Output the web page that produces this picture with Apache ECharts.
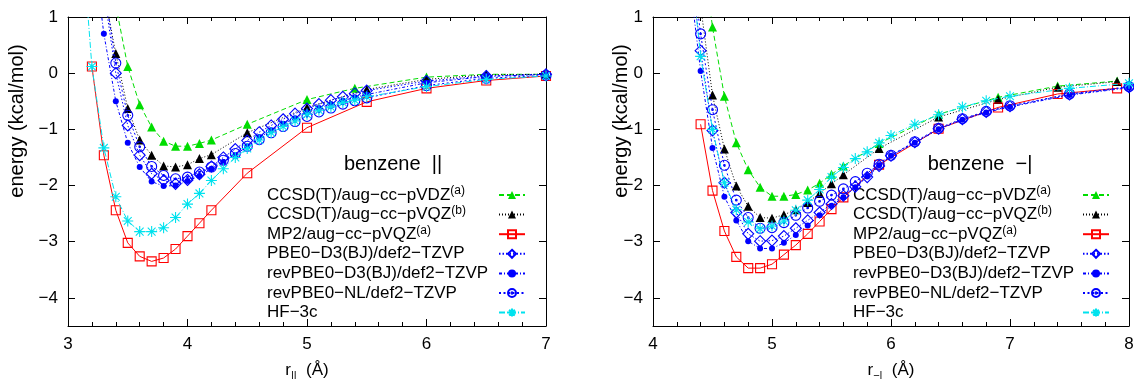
<!DOCTYPE html>
<html><head><meta charset="utf-8">
<script src="https://cdn.jsdelivr.net/npm/echarts@6/dist/echarts.min.js"></script>
<style>html,body{margin:0;padding:0;background:#fff}#c{width:1134px;height:379px}</style>
</head><body><div id="c"></div>
<script>
// ---------- method names (legend) ----------
const methodNames = ['CCSD(T)/aug−cc−pVDZ', 'CCSD(T)/aug−cc−pVQZ', 'MP2/aug−cc−pVQZ',
  'PBE0−D3(BJ)/def2−TZVP', 'revPBE0−D3(BJ)/def2−TZVP', 'revPBE0−NL/def2−TZVP', 'HF−3c'];
const methodSup = ['(a)', '(b)', '(a)', '', '', '', ''];

// ---------- axis ticks ----------
const yTicks = [-4, -3, -2, -1, 0, 1];

// ---------- left panel: benzene || ----------
const parR_VDZ = [3.4,3.5,3.6,3.7,3.8,3.9,4.0,4.1,4.2,4.5,5.0,5.4,6.0,6.5,7.0];
const parE_VDZ = [1.21,0.12,-0.56,-0.96,-1.21,-1.30,-1.30,-1.25,-1.19,-0.91,-0.47,-0.27,-0.07,-0.02,-0.02];
const parR_VQZ = [3.3,3.4,3.5,3.6,3.7,3.8,3.9,4.0,4.1,4.2,4.5,5.0,5.5,6.0,6.5,7.0];
const parE_VQZ = [1.45,0.35,-0.63,-1.19,-1.46,-1.65,-1.67,-1.63,-1.52,-1.45,-1.06,-0.61,-0.29,-0.11,-0.03,-0.02];
const parR_MP2 = [3.2,3.3,3.4,3.5,3.6,3.7,3.8,3.9,4.0,4.1,4.2,4.5,5.0,5.5,6.0,6.5,7.0];
const parE_MP2 = [0.12,-1.46,-2.44,-3.02,-3.26,-3.35,-3.29,-3.13,-2.90,-2.67,-2.44,-1.78,-0.97,-0.51,-0.27,-0.13,-0.05];
const parR_PBE0 = [3.3,3.4,3.5,3.6,3.7,3.8,3.9,4.0,4.1,4.2,4.3,4.4,4.5,4.6,4.7,4.8,4.9,5.0,5.1,5.2,5.3,5.4,5.5,6.0,6.5,7.0];
const parE_PBE0 = [1.45,0.00,-0.93,-1.46,-1.79,-1.91,-1.97,-1.90,-1.80,-1.66,-1.50,-1.35,-1.20,-1.05,-0.93,-0.82,-0.72,-0.63,-0.55,-0.48,-0.42,-0.36,-0.31,-0.14,-0.05,-0.02];
const parR_revD3 = [3.2,3.3,3.4,3.5,3.6,3.7,3.8,3.9,4.0,4.1,4.2,4.3,4.4,4.5,4.6,4.7,4.8,4.9,5.0,5.1,5.2,5.3,5.4,5.5,6.0,6.5,7.0];
const parE_revD3 = [2.4,0.70,-0.50,-1.24,-1.67,-1.93,-2.01,-2.00,-1.92,-1.83,-1.70,-1.58,-1.46,-1.30,-1.15,-1.02,-0.90,-0.80,-0.70,-0.62,-0.55,-0.49,-0.43,-0.38,-0.17,-0.06,-0.02];
const parR_NL = [3.3,3.4,3.5,3.6,3.7,3.8,3.9,4.0,4.1,4.2,4.3,4.4,4.5,4.6,4.7,4.8,4.9,5.0,5.1,5.2,5.3,5.4,5.5,6.0,6.5,7.0];
const parE_NL = [1.6,0.18,-0.75,-1.31,-1.66,-1.82,-1.88,-1.85,-1.76,-1.67,-1.55,-1.43,-1.30,-1.18,-1.06,-0.95,-0.86,-0.77,-0.69,-0.62,-0.55,-0.49,-0.44,-0.22,-0.09,-0.04];
const parR_HF = [3.1,3.2,3.3,3.4,3.5,3.6,3.7,3.8,3.9,4.0,4.1,4.2,4.3,4.4,4.5,4.6,4.7,4.8,4.9,5.0,5.1,5.2,5.3,5.4,5.5,6.0,6.5,7.0];
const parE_HF = [2.9,0.12,-1.33,-2.20,-2.63,-2.82,-2.82,-2.75,-2.57,-2.33,-2.14,-1.91,-1.70,-1.50,-1.34,-1.19,-1.06,-0.95,-0.85,-0.73,-0.66,-0.60,-0.52,-0.48,-0.42,-0.24,-0.11,-0.05];

// ---------- right panel: benzene −| ----------
const tR_CC = [4.4,4.5,4.6,4.7,4.8,4.9,5.0,5.1,5.2,5.3,5.4,5.5,5.6,5.9,6.4,6.9,7.4,7.9];
const tE_VDZ = [2.5,0.82,-0.41,-1.24,-1.72,-2.03,-2.19,-2.19,-2.16,-2.08,-1.96,-1.80,-1.65,-1.25,-0.73,-0.43,-0.23,-0.14];
const tE_VQZ = [1.2,-0.39,-1.35,-2.01,-2.37,-2.57,-2.58,-2.52,-2.43,-2.30,-2.14,-1.97,-1.81,-1.34,-0.78,-0.47,-0.25,-0.15];
const tE_MP2 = [-0.91,-2.09,-2.81,-3.27,-3.47,-3.47,-3.40,-3.23,-3.06,-2.86,-2.64,-2.42,-2.21,-1.63,-0.99,-0.61,-0.37,-0.27];
const tR_DFT = [4.3,4.4,4.5,4.6,4.7,4.8,4.9,5.0,5.1,5.2,5.3,5.4,5.5,5.6,5.7,5.8,5.9,6.0,6.2,6.4,6.6,6.8,7.0,7.5,8.0];
const tE_PBE0 = [2.2,0.40,-1.02,-1.95,-2.48,-2.86,-2.99,-2.98,-2.90,-2.76,-2.62,-2.48,-2.33,-2.18,-2.02,-1.85,-1.65,-1.47,-1.23,-0.99,-0.82,-0.69,-0.59,-0.38,-0.25];
const tE_revD3 = [1.8,0.04,-1.33,-2.20,-2.62,-2.99,-3.12,-3.12,-3.02,-2.88,-2.71,-2.53,-2.36,-2.21,-2.03,-1.84,-1.64,-1.47,-1.24,-1.00,-0.83,-0.70,-0.60,-0.39,-0.26];
const tE_NL = [2.4,0.70,-0.65,-1.64,-2.26,-2.57,-2.76,-2.75,-2.66,-2.53,-2.40,-2.28,-2.17,-2.06,-1.93,-1.78,-1.62,-1.46,-1.22,-0.98,-0.81,-0.68,-0.58,-0.37,-0.24];
const tE_HF = [2.3,0.30,-1.00,-1.95,-2.43,-2.65,-2.77,-2.72,-2.63,-2.44,-2.26,-2.07,-1.85,-1.68,-1.52,-1.40,-1.24,-1.11,-0.91,-0.74,-0.60,-0.49,-0.41,-0.27,-0.18];

// ---------- styles ----------
const FONT = '"Liberation Sans", Arial, Helvetica, sans-serif';
const ODOT = 'path://M10,0A10,10,0,1,1,-10,0A10,10,0,1,1,10,0ZM1.6,0A1.6,1.6,0,1,1,-1.6,0A1.6,1.6,0,1,1,1.6,0Z';
const STAR = 'path://M0,-10L0,10M-10,0L10,0M-7.1,-7.1L7.1,7.1M-7.1,7.1L7.1,-7.1';
const styles = [
  {color:'#00dd00', symbol:'triangle', size:9,  fill:true,  dash:[5,3]},
  {color:'#000000', symbol:'triangle', size:9,  fill:true,  dash:[1,2]},
  {color:'#ff0000', symbol:'rect',     size:9,  fill:false, dash:'solid'},
  {color:'#0000ff', symbol:'diamond',  size:11, fill:false, dash:[1.5,2]},
  {color:'#0000ff', symbol:'circle',   size:6,  fill:true,  dash:[3,2,1,2]},
  {color:'#0000ff', symbol:ODOT,       size:10, fill:false, dash:[2,2.5]},
  {color:'#00e2ee', symbol:STAR,       size:11, fill:false, dash:[6,2,1,2]}
];

const seriesNames = methodNames.map((m, i) => m + methodSup[i]);

const leftSets = [[parR_VDZ,parE_VDZ],[parR_VQZ,parE_VQZ],[parR_MP2,parE_MP2],[parR_PBE0,parE_PBE0],[parR_revD3,parE_revD3],[parR_NL,parE_NL],[parR_HF,parE_HF]];
const rightSets = [[tR_CC,tE_VDZ],[tR_CC,tE_VQZ],[tR_CC,tE_MP2],[tR_DFT,tE_PBE0],[tR_DFT,tE_revD3],[tR_DFT,tE_NL],[tR_DFT,tE_HF]];

function mkSeries(k, set, gi) {
  const s = styles[k];
  return {
    type: 'line', name: seriesNames[k], xAxisIndex: gi * 2, yAxisIndex: gi * 2,
    data: set[0].map((x, i) => [x, set[1][i]]),
    symbol: s.symbol, symbolSize: s.size, showAllSymbol: true, clip: true,
    lineStyle: {color: s.color, width: 1, type: s.dash},
    itemStyle: s.fill ? {color: s.color, borderWidth: 0}
                      : {color: 'rgba(0,0,0,0)', borderColor: s.color, borderWidth: 1.1},
    z: 2 + k, silent: true, animation: false, emphasis: {disabled: true}
  };
}
const series = [];
leftSets.forEach((s, k) => series.push(mkSeries(k, s, 0)));
rightSets.forEach((s, k) => series.push(mkSeries(k, s, 1)));

const black = {color: '#000'};
function xAxes(gi, min, max, nameRich) {
  const common = {
    gridIndex: gi, type: 'value', min: min, max: max, interval: 1,
    axisLine: {onZero: false, lineStyle: {color: '#000', width: 1}},
    axisTick: {inside: true, length: 7, lineStyle: black},
    minorTick: {show: true, splitNumber: 5, length: 4, lineStyle: black},
    splitLine: {show: false}, minorSplitLine: {show: false}
  };
  return [
    Object.assign({}, common, {
      position: 'bottom',
      axisLabel: {fontSize: 17, color: '#000', fontFamily: FONT, margin: 10},
      name: nameRich, nameLocation: 'middle', nameGap: 31,
      nameTextStyle: {fontSize: 17, color: '#000', fontFamily: FONT, lineHeight: 24,
        rich: {s: {fontSize: 11, fontFamily: FONT, color: '#000', verticalAlign: 'bottom', lineHeight: 12}}}
    }),
    Object.assign({}, common, {position: 'top', axisLabel: {show: false}})
  ];
}
function yAxes(gi) {
  const common = {
    gridIndex: gi, type: 'value', min: -4.5, max: 1,
    axisLine: {onZero: false, lineStyle: {color: '#000', width: 1}},
    axisTick: {inside: true, length: 7, lineStyle: black, customValues: yTicks},
    splitLine: {show: false}
  };
  return [
    Object.assign({}, common, {
      position: 'left',
      axisLabel: {customValues: yTicks, fontSize: 17, color: '#000', fontFamily: FONT, margin: 10,
        formatter: v => String(v).replace('-', '−')}
    }),
    Object.assign({}, common, {position: 'right', axisLabel: {show: false}})
  ];
}

function legendFor(left, width) {
  return {
    orient: 'vertical', left: left, top: 185, padding: 0, itemGap: -0.4,
    itemWidth: 26, itemHeight: 10, align: 'right', selectedMode: false,
    data: seriesNames,
    formatter: name => {
      const k = seriesNames.indexOf(name);
      return '{t|' + methodNames[k] + '}' + (methodSup[k] ? '{s|' + methodSup[k] + '}' : '');
    },
    textStyle: {width: width, height: 20, lineHeight: 20, fontSize: 17, color: '#000', fontFamily: FONT,
      rich: {
        t: {fontSize: 17, color: '#000', fontFamily: FONT, align: 'left', lineHeight: 20},
        s: {fontSize: 12, color: '#000', fontFamily: FONT, align: 'left', verticalAlign: 'top', lineHeight: 10}
      }}
  };
}

const yName = 'energy (kcal/mol)';
const chart = echarts.init(document.getElementById('c'), null, {renderer: 'canvas'});
chart.setOption({
  animation: false,
  backgroundColor: '#fff',
  grid: [
    {left: 68, top: 17, width: 478, height: 309, containLabel: false, outerBoundsMode: 'none'},
    {left: 653, top: 17, width: 476, height: 309, containLabel: false, outerBoundsMode: 'none'}
  ],
  xAxis: [].concat(xAxes(0, 3, 7, 'r{s|||}  (Å)'), xAxes(1, 4, 8, 'r{s|−|}  (Å)')),
  yAxis: [].concat(yAxes(0), yAxes(1)),
  legend: [legendFor(267, 227), legendFor(853, 225)],
  graphic: [
    {type: 'text', x: 393, y: 164, style: {text: 'benzene  ||', font: '20px "Liberation Sans", Arial, sans-serif', fill: '#000', align: 'center', verticalAlign: 'middle'}},
    {type: 'text', x: 980, y: 164, style: {text: 'benzene  −|', font: '20px "Liberation Sans", Arial, sans-serif', fill: '#000', align: 'center', verticalAlign: 'middle'}},
    {type: 'text', x: 17, y: 121, rotation: Math.PI / 2, style: {text: yName, font: '20px "Liberation Sans", Arial, sans-serif', fill: '#000', align: 'center', verticalAlign: 'middle'}},
    {type: 'text', x: 621, y: 121, rotation: Math.PI / 2, style: {text: yName, font: '20px "Liberation Sans", Arial, sans-serif', fill: '#000', align: 'center', verticalAlign: 'middle'}}
  ],
  series: series
});
</script>
</body></html>
